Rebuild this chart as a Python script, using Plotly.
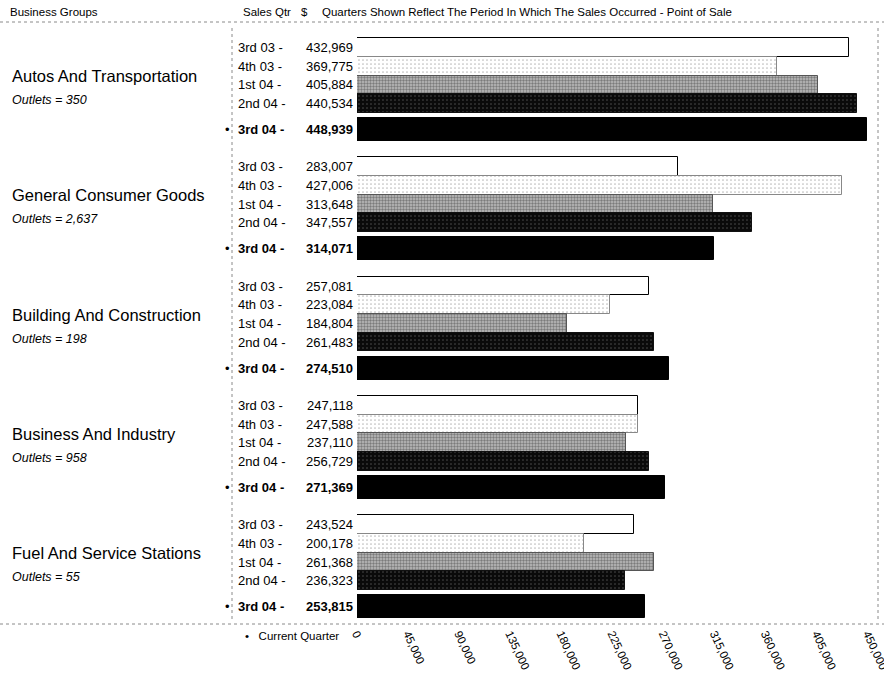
import plotly.graph_objects as go

# ---------------- data ----------------
groups = ["Autos And Transportation", "General Consumer Goods", "Building And Construction",
          "Business And Industry", "Fuel And Service Stations"]
outlets = ["350", "2,637", "198", "958", "55"]
quarters = ["3rd 03", "4th 03", "1st 04", "2nd 04", "3rd 04"]
sales_3rd03 = [432969, 283007, 257081, 247118, 243524]
sales_4th03 = [369775, 427006, 223084, 247588, 200178]
sales_1st04 = [405884, 313648, 184804, 237110, 261368]
sales_2nd04 = [440534, 347557, 261483, 256729, 236323]
sales_3rd04 = [448939, 314071, 274510, 271369, 253815]
x_ticks = [0, 45000, 90000, 135000, 180000, 225000, 270000, 315000, 360000, 405000, 450000]

series = [sales_3rd03, sales_4th03, sales_1st04, sales_2nd04, sales_3rd04]

# ---------------- layout constants ----------------
W, H = 884, 677
ML, MR, MT, MB = 357, 6, 22, 53
PW = W - ML - MR
PH = H - MT - MB
XMAX = 450000 * PW / 511.0

FIRST = 25.5
GROUP_STEP = 119.3
ROW = 18.67
CUR_OFF = 82.0
CUR_W = 23.0

FONT = "Liberation Sans, Arial, Helvetica, sans-serif"


def row_y(g, q):
    return FIRST + g * GROUP_STEP + (q * ROW if q < 4 else CUR_OFF)


def px(xpix):
    return (xpix - ML) / PW


def py(ypix):
    return 1 - (ypix - MT) / PH


styles = [
    dict(color="white", line=dict(color="black", width=1)),
    dict(color="white",
         pattern=dict(shape=".", fgcolor="#7a7a7a", bgcolor="white", size=4, solidity=0.15),
         line=dict(color="#888888", width=1)),
    dict(color="#999999",
         pattern=dict(shape=".", fgcolor="#3a3a3a", bgcolor="#bdbdbd", size=3, solidity=0.5),
         line=dict(color="#555555", width=1)),
    dict(color="#222222",
         pattern=dict(shape=".", fgcolor="#9a9a9a", bgcolor="#0a0a0a", size=4, solidity=0.12),
         line=dict(color="#111111", width=1)),
    dict(color="black", line=dict(color="black", width=1)),
]

fig = go.Figure()
for q, vals in enumerate(series):
    ys = [row_y(g, q) for g in range(len(groups))]
    fig.add_trace(go.Bar(
        x=vals, y=ys, orientation="h", name=quarters[q],
        width=[CUR_W if q == 4 else ROW] * len(groups),
        marker=styles[q], showlegend=False, hoverinfo="x",
    ))

ann = []
# header
ann.append(dict(text="Business Groups", x=px(8), y=py(12), xanchor="left"))
ann.append(dict(text="Sales Qtr", x=px(241), y=py(12), xanchor="left"))
ann.append(dict(text="$", x=px(299), y=py(12), xanchor="left"))
ann.append(dict(text="Quarters Shown Reflect The Period In Which The Sales Occurred - Point of Sale",
                x=px(320), y=py(12), xanchor="left"))
for a in ann:
    a.update(xref="paper", yref="paper", yanchor="middle", showarrow=False,
             font=dict(family=FONT, size=11.5, color="black"))

for g, name in enumerate(groups):
    base = row_y(g, 0)
    ann.append(dict(text=name, x=px(10), y=base + 28.5, xref="paper", yref="y",
                    xanchor="left", yanchor="middle", showarrow=False,
                    font=dict(family=FONT, size=16.5, color="black")))
    ann.append(dict(text="<i>Outlets = %s</i>" % outlets[g], x=px(10), y=base + 52.5,
                    xref="paper", yref="y", xanchor="left", yanchor="middle", showarrow=False,
                    font=dict(family=FONT, size=12.5, color="black")))
    for q in range(5):
        y = row_y(g, q)
        lab = quarters[q] + " -"
        val = f"{series[q][g]:,}"
        if q == 4:
            lab = "<b>%s</b>" % lab
            val = "<b>%s</b>" % val
            ann.append(dict(text="•", x=px(227), y=y, xref="paper", yref="y",
                            xanchor="center", yanchor="middle", showarrow=False,
                            font=dict(family=FONT, size=13, color="black")))
        ann.append(dict(text=lab, x=px(236), y=y, xref="paper", yref="y",
                        xanchor="left", yanchor="middle", showarrow=False,
                        font=dict(family=FONT, size=13, color="black")))
        ann.append(dict(text=val, x=px(355), y=y, xref="paper", yref="y",
                        xanchor="right", yanchor="middle", showarrow=False,
                        font=dict(family=FONT, size=13, color="black")))

ann.append(dict(text="•   Current Quarter", x=px(243), y=py(636), xref="paper", yref="paper",
                xanchor="left", yanchor="middle", showarrow=False,
                font=dict(family=FONT, size=11.5, color="black")))

dot = dict(color="#8a8a8a", width=1, dash="dot")
shapes = [
    dict(type="line", xref="paper", yref="paper", x0=px(0), x1=px(W), y0=py(22), y1=py(22), line=dot),
    dict(type="line", xref="paper", yref="paper", x0=px(0), x1=px(W), y0=py(624), y1=py(624), line=dot),
    dict(type="line", xref="paper", yref="paper", x0=px(232), x1=px(232), y0=py(28), y1=py(620), line=dot),
    dict(type="line", xref="paper", yref="paper", x0=px(878), x1=px(878), y0=py(28), y1=py(620), line=dot),
]

fig.update_layout(
    width=W, height=H, autosize=False,
    margin=dict(l=ML, r=MR, t=MT, b=MB, pad=0, autoexpand=False),
    paper_bgcolor="white", plot_bgcolor="white",
    barmode="overlay", bargap=0,
    annotations=ann, shapes=shapes,
    xaxis=dict(range=[0, XMAX], tickmode="array", tickvals=x_ticks,
               ticktext=[f"{v:,}" for v in x_ticks], tickangle=65,
               ticklabeloverflow="allow", automargin=False,
               showgrid=False, zeroline=False, showline=False, ticks="",
               tickfont=dict(family=FONT, size=11.5, color="black"), fixedrange=True),
    yaxis=dict(range=[PH, 0], showgrid=False, zeroline=False, showline=False,
               showticklabels=False, ticks="", fixedrange=True, automargin=False),
    font=dict(family=FONT, color="black"),
)

post = (
    "document.body.style.margin='0';"
    "document.body.style.overflow='hidden';"
)
fig.write_html("out.html", config={"displayModeBar": False}, post_script=post)
